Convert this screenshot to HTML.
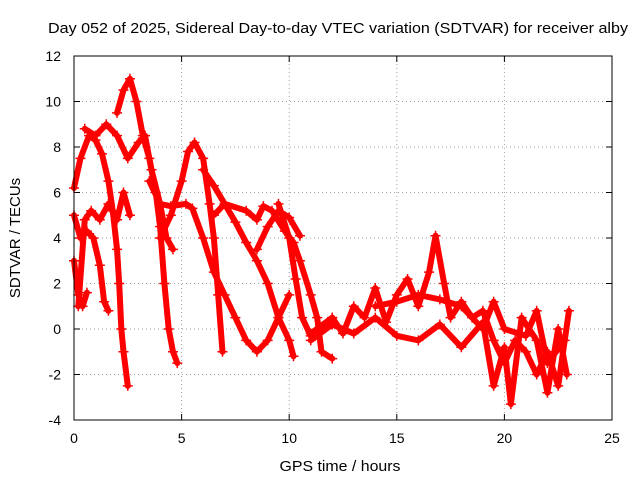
<!DOCTYPE html>
<html><head><meta charset="utf-8"><style>
body{margin:0;background:#fff}
svg{display:block;font-family:"Liberation Sans",sans-serif}
</style></head><body>
<svg id="chart" width="640" height="480" viewBox="0 0 640 480">
<rect width="640" height="480" fill="#fff"/>
<text x="338" y="33" text-anchor="middle" font-size="15" textLength="580" lengthAdjust="spacingAndGlyphs">Day 052 of 2025, Sidereal Day-to-day VTEC variation (SDTVAR) for receiver alby</text>
<text x="340" y="471" text-anchor="middle" font-size="15" textLength="121" lengthAdjust="spacingAndGlyphs">GPS time / hours</text>
<text transform="translate(20,238) rotate(-90)" text-anchor="middle" font-size="15">SDTVAR / TECUs</text>
<g id="grid"></g>
<g id="ticks"></g>
<g id="series"></g>
<rect x="74" y="56" width="538" height="364" fill="none" stroke="#000" stroke-width="1"/>
</svg>
<script>
const xTicks=[0,5,10,15,20,25];
const yTicks=[-4,-2,0,2,4,6,8,10,12];
const trackA=[[0,6.2],[0.3,7.5],[0.7,8.5],[1.0,8.3],[1.3,7.7],[1.6,6.5],[1.8,5.2],[2.0,3.5],[2.1,2],[2.2,0],[2.3,-1],[2.5,-2.5]];
const trackB=[[0,5],[0.3,4],[0.6,4.3],[0.9,4],[1.2,2.8],[1.4,1.2],[1.6,0.8]];
const trackB2=[[0,3],[0.2,1.5],[0.4,1],[0.6,1.6]];
const trackC=[[2.0,9.5],[2.3,10.5],[2.6,11],[2.9,10],[3.2,8.5],[3.5,7.5],[3.8,6],[4.0,4.5],[4.2,2],[4.4,0],[4.6,-1],[4.8,-1.5]];
const trackD=[[0.5,8.8],[1,8.5],[1.5,9],[2,8.5],[2.5,7.5],[3,8.2],[3.3,8.5],[3.6,7],[4,5.5],[4.3,4],[4.6,3.5]];
const trackE=[[0.2,1],[0.5,4.8],[0.8,5.2],[1.2,4.8],[1.6,5.5],[2.0,4.8],[2.3,6],[2.6,5]];
const trackF=[[4,4],[4.5,5],[5,6.5],[5.3,7.8],[5.6,8.2],[6,7.5],[6.3,5.5],[6.5,4],[6.7,1.5],[6.9,-1]];
const trackG=[[3.5,6.5],[4.0,5.5],[4.5,5.4],[5.2,5.5],[5.5,5.3],[6,4],[6.5,2.5],[7,1.5],[7.5,0.5],[8,-0.5],[8.5,-1],[9,-0.5],[9.5,0.5],[10,1.5]];
const trackH=[[6,7],[6.5,6.3],[7,5.5],[7.5,4.7],[8,3.8],[8.5,3],[9,2],[9.5,0.5],[10,-0.5],[10.2,-1.2]];
const trackI=[[6.5,5],[7,5.5],[8,5.2],[8.5,4.8],[8.8,5.4],[9.2,5.2],[9.8,4.3],[10.2,3.8],[10.5,3],[11,1.5],[11.3,0.5],[11.5,-1],[12,-1.3]];
const trackJ=[[8.5,3.5],[9,4.5],[9.5,5.2],[10,4.9],[10.5,4.1]];
const trackK=[[9.5,5.5],[10,4],[10.3,2.2],[10.6,0.5],[11,-0.3],[11.5,0],[12,0.5]];
const trackL=[[11,-0.2],[12,0.5],[12.5,-0.2],[13,1],[13.5,0.5],[14,1.8],[14.5,0.3],[15,1.5],[15.5,2.2],[16,1],[16.5,2.5],[16.8,4.1],[17.2,2],[17.5,0.5],[18,1.2],[18.5,0.5],[19,0.8],[19.5,-0.5],[20,-1.5],[20.5,-0.5],[21,-1],[21.5,-2],[22,-1],[22.5,-2.5],[23,0.8]];
const trackM=[[11,-0.5],[12,0.2],[13,-0.2],[14,0.5],[15,-0.3],[16,-0.5],[17,0.2],[18,-0.8],[19,0.3],[19.5,-2.5],[20,-0.8],[20.3,-3.3],[20.8,0.5],[21.5,-0.5],[22,-2.8],[22.5,0],[22.9,-2]];
const trackN=[[14,1],[15,1.2],[16,1.5],[17,1.3],[18,1],[19,0],[19.5,1.2],[20,0],[21,-0.3],[21.5,0.8],[22,-1.5],[22.8,-0.5]];
const tracks=[trackA,trackB,trackB2,trackC,trackD,trackE,trackF,trackG,trackH,trackI,trackJ,trackK,trackL,trackM,trackN];

const X0=74,X1=612,Y0=420,Y1=56,xMin=0,xMax=25,yMin=-4,yMax=12;
const sx=v=>X0+(v-xMin)/(xMax-xMin)*(X1-X0);
const sy=v=>Y0-(v-yMin)/(yMax-yMin)*(Y0-Y1);
const NS="http://www.w3.org/2000/svg";
const g=document.getElementById('grid'),t=document.getElementById('ticks'),s=document.getElementById('series');
function mk(tag,attrs,parent){const e=document.createElementNS(NS,tag);for(const k in attrs)e.setAttribute(k,attrs[k]);parent.appendChild(e);return e;}
xTicks.forEach(v=>{
  const x=sx(v);
  if(v>xMin&&v<xMax){const l=mk('line',{x1:x,x2:x,y1:Y1,y2:Y0,stroke:'#a0a0a0','stroke-dasharray':'1,3'},g);
  
  }
  mk('line',{x1:x,x2:x,y1:Y0,y2:Y0-6,stroke:'#000'},t);
  mk('line',{x1:x,x2:x,y1:Y1,y2:Y1+6,stroke:'#000'},t);
  const tx=mk('text',{x:x,y:Y0+23,'text-anchor':'middle','font-size':14},t);tx.textContent=v;
  
  
});
yTicks.forEach(v=>{
  const y=sy(v);
  if(v>yMin&&v<yMax){const l=mk('line',{x1:X0,x2:X1,y1:y,y2:y,stroke:'#a0a0a0','stroke-dasharray':'1,3'},g);
  
  }
  mk('line',{x1:X0,x2:X0+6,y1:y,y2:y,stroke:'#000'},t);
  mk('line',{x1:X1,x2:X1-6,y1:y,y2:y,stroke:'#000'},t);
  const tx=mk('text',{x:X0-13,y:y+5,'text-anchor':'end','font-size':14},t);tx.textContent=v;
  
  
});
tracks.forEach((tr,i)=>{
  const pl=mk('polyline',{points:tr.map(p=>sx(p[0])+','+sy(p[1])).join(' '),fill:'none',stroke:'#ff0000','stroke-width':6,'stroke-linejoin':'round','stroke-linecap':'round'},s);
  
  
  tr.forEach(p=>{
    const x=sx(p[0]),y=sy(p[1]);
    const m=mk('path',{d:`M${x-5},${y}H${x+5}M${x},${y-5}V${y+5}`,stroke:'#ff0000','stroke-width':1.5},s);
    
    
  });
});
</script>
</body></html>
